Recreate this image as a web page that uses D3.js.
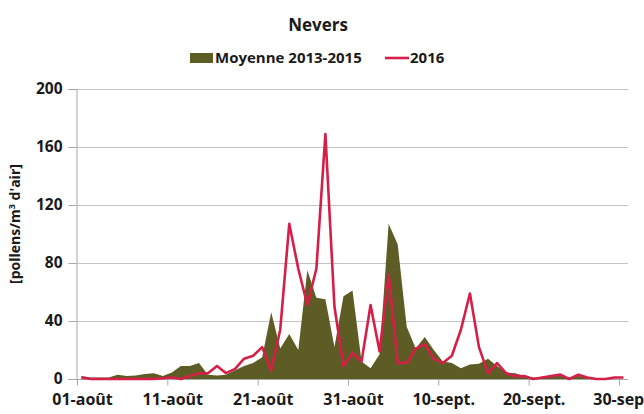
<!DOCTYPE html>
<html>
<head>
<meta charset="utf-8">
<script src="https://cdn.jsdelivr.net/npm/d3@7"></script>
<style>
  body { margin: 0; background: #fff; }
  text { font-family: "Open Sans", Lato, sans-serif; font-weight: bold; fill: #1a1a1a; }
</style>
</head>
<body>
<svg id="chart" width="644" height="414"></svg>
<script>
// days from 01-août to 30-sept. (61 days)
var days = d3.timeDay.range(new Date(2016, 7, 1), new Date(2016, 9, 1));
var tickDays = [0, 10, 20, 30, 40, 50, 60];
var tickLabels = ["01-août", "11-août", "21-août", "31-août", "10-sept.", "20-sept.", "30-sept."];
var yTicks = [0, 40, 80, 120, 160, 200];

var moyenne = [2, 1, 1, 1, 3, 2, 2.5, 3.5, 4, 2,
  4.5, 9, 9, 11, 3, 2.5, 3, 6, 9, 11,
  15, 46, 21, 31, 20, 75, 56, 55, 22, 57,
  61, 12, 7.5, 17, 107, 93, 36, 21, 29, 20,
  12, 11, 7.5, 10, 10.5, 14, 9, 4.5, 4, 2,
  1, 1, 2, 2, 1, 2, 1, 0, 0, 0, 0];

var v2016 = [1, 0, 0, 0, 0, 0, 0, 0, 0, 0.5,
  1, 0, 2, 4, 4, 9, 4, 7, 14, 16,
  22, 6, 34, 107, 76, 51, 76, 169, 50, 9,
  18, 12, 51, 19, 72, 11, 11, 21, 24, 14,
  11, 16, 34, 59, 22, 4, 11, 4, 2, 2,
  0, 1, 2, 3, 0, 3, 1, 0, 0, 1, 1];

var svg = d3.select("#chart");

var x = d3.scaleBand()
  .domain(d3.range(days.length))
  .range([77, 628])
  .padding(0);
var y = d3.scaleLinear().domain([0, 200]).range([379, 89]);

function cx(i) { return x(i) + x.bandwidth() / 2; }

// gridlines
svg.append("g")
  .selectAll("line")
  .data(yTicks.slice(1))
  .enter()
  .append("line")
    .attr("x1", 77).attr("x2", 628)
    .attr("y1", function(d) { return y(d) + 0.5; })
    .attr("y2", function(d) { return y(d) + 0.5; })
    .attr("stroke", "#c4c4c4")
    .attr("stroke-width", 1);

// area (moyenne)
var area = d3.area()
  .x(function(d, i) { return cx(i); })
  .y0(y(0))
  .y1(function(d) { return y(d); });
svg.append("path")
  .datum(moyenne)
  .attr("d", area)
  .attr("fill", "#5e5c25");

// axes
var yAxis = d3.axisLeft(y).tickValues(yTicks).tickSize(8).tickPadding(6);
var gy = svg.append("g").attr("transform", "translate(76.5,0)").call(yAxis);
gy.select(".domain").attr("stroke", "#a6a6a6");
gy.selectAll(".tick line").attr("stroke", "#a6a6a6");
gy.selectAll(".tick text")
  .attr("font-size", 15.5)
  .attr("font-family", "'Open Sans', sans-serif")
  .attr("font-weight", "bold")
  .attr("fill", "#1a1a1a");

var xAxis = d3.axisBottom(x)
  .tickValues(tickDays)
  .tickSize(6)
  .tickFormat(function(d, i) { return tickLabels[i]; });
var gx = svg.append("g").attr("transform", "translate(0,379.5)").call(xAxis);
gx.select(".domain").attr("stroke", "#a6a6a6").attr("d", "M77,0H628");
gx.selectAll(".tick").attr("transform", function(d) { return "translate(" + (x(d) + 0.5) + ",0)"; });
gx.selectAll(".tick line").attr("stroke", "#a6a6a6");
gx.selectAll(".tick text")
  .attr("x", 5)
  .attr("y", 14)
  .attr("font-size", 16)
  .attr("font-family", "'Open Sans', sans-serif")
  .attr("font-weight", "bold")
  .attr("fill", "#1a1a1a");

// 2016 line
var line = d3.line()
  .x(function(d, i) { return cx(i); })
  .y(function(d) { return y(d); });
svg.append("path")
  .datum(v2016)
  .attr("d", line)
  .attr("fill", "none")
  .attr("stroke", "#d61f48")
  .attr("stroke-width", 2.6)
  .attr("stroke-linejoin", "round");

// title
svg.append("text")
  .attr("x", 318).attr("y", 31)
  .attr("text-anchor", "middle")
  .attr("font-size", 17)
  .text("Nevers");

// legend
svg.append("rect").attr("x", 190).attr("y", 53).attr("width", 23).attr("height", 10).attr("fill", "#5e5c25");
svg.append("text").attr("x", 215).attr("y", 63).attr("font-size", 15).text("Moyenne 2013-2015");
svg.append("line").attr("x1", 385).attr("x2", 409).attr("y1", 58).attr("y2", 58)
  .attr("stroke", "#d61f48").attr("stroke-width", 2.6);
svg.append("text").attr("x", 410).attr("y", 63).attr("font-size", 15).text("2016");

// y axis title
svg.append("text")
  .attr("transform", "translate(20,224) rotate(-90)")
  .attr("text-anchor", "middle")
  .attr("font-size", 14)
  .html("[pollens/m<tspan dy='-5' font-size='9'>3</tspan><tspan dy='5'> d'air]</tspan>");
</script>
</body>
</html>
